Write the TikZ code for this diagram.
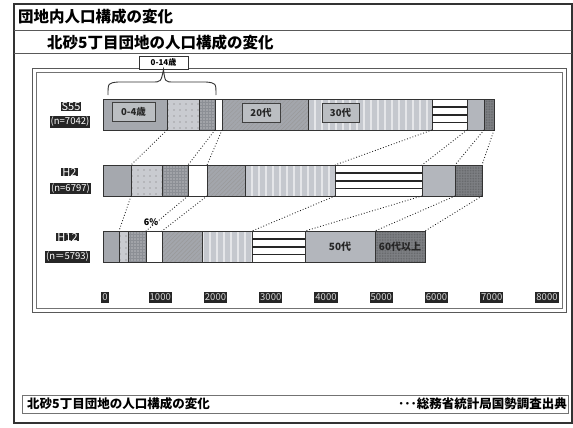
\documentclass[tikz,border=0pt]{standalone}
\usepackage{fontspec}
\setmainfont{Noto Sans CJK JP}
\usetikzlibrary{patterns.meta,calc}
\definecolor{g0}{HTML}{A5A8AE}
\definecolor{g5}{HTML}{C9CBD0}
\definecolor{g10}{HTML}{8C8F95}
\definecolor{g20}{HTML}{A3A6AC}
\definecolor{g30}{HTML}{C5C8CE}
\definecolor{g50}{HTML}{B3B6BC}
\definecolor{g60}{HTML}{7E8084}
\newcommand\mkseg[5]{\node[seg,#5,minimum width={#3-#2}] (#1) at (#2,#4) {};}
\begin{document}
\begin{tikzpicture}[x=1pt,y=-1pt,
  seg/.style={draw=black!80, line width=0.8pt, anchor=north west, inner sep=0pt, outer sep=0pt, minimum height=31pt},
  s0/.style={fill=g0},
  s5/.style={preaction={fill=g5}, pattern={Dots[distance=6pt,radius=0.55pt]}, pattern color=black!55},
  s10/.style={preaction={fill=g10}, pattern={Dots[distance=3pt,radius=0.65pt]}, pattern color=white!80!g10},
  s15/.style={fill=white},
  s20/.style={preaction={fill=g20}, pattern={Lines[angle=45,distance=3pt,line width=0.4pt]}, pattern color=black!40},
  s30/.style={preaction={fill=g30}, pattern={Lines[angle=90,distance=7pt,line width=1.5pt]}, pattern color=white!55!g30},
  s40/.style={fill=white},
  s50/.style={fill=g50},
  s60/.style={preaction={fill=g60}, pattern={Dots[distance=1.6pt,radius=0.4pt]}, pattern color=black!30!g60},
  conn/.style={dotted, line width=0.85pt, black!90},
  stripe/.style={line width=1.4pt, black!85},
  lbl/.style={draw=black!75, fill=g0!75!white, line width=0.8pt, font=\fontsize{9.5}{10}\selectfont\bfseries, text=black!85, inner sep=0pt, minimum height=19pt},
  rl/.style={fill=black!85, text=white, font=\fontsize{9.5}{10}\selectfont, inner sep=1pt},
  rlb/.style={rl, font=\fontsize{11}{12}\selectfont, inner ysep=0.3pt},
  ax/.style={fill=black!85, text=white!85!black, font=\fontsize{9.5}{10}\selectfont, inner xsep=1pt, inner ysep=0.5pt, minimum height=11pt},
  frameline/.style={line width=1pt, black!65}]
\useasboundingbox (0,0) rectangle (573,428);
\fill[white] (0,0) rectangle (573,428);
% frames
\draw[line width=1.6pt, black!80] (14,4) rectangle (572,423);
\draw[frameline] (14,31) -- (572,31);
\draw[frameline] (14,54) -- (572,54);
\draw[black!65, line width=0.8pt] (32,68) rectangle (566,312);
\draw[black!55, line width=0.6pt] (36,72) rectangle (562,308);
\draw[black!55, line width=0.7pt] (22,395) rectangle (568,413);
% titles
\node[anchor=west, font=\fontsize{15.5}{17}\selectfont\bfseries, inner sep=0pt] (title) at (18,17) {団地内人口構成の変化};
\node[anchor=west, font=\fontsize{15.5}{17}\selectfont\bfseries, inner sep=0pt] (subtitle) at (47,43) {北砂5丁目団地の人口構成の変化};
\node[anchor=west, font=\fontsize{12.5}{14}\selectfont\bfseries, inner sep=0pt] (cap) at (27,404) {北砂5丁目団地の人口構成の変化};
\node[anchor=east, font=\fontsize{12.5}{14}\selectfont\bfseries, inner sep=0pt] (src) at (567,404) {･･･総務省統計局国勢調査出典};
% S55 bar
\mkseg{a1}{103}{167}{99}{s0}
\mkseg{a2}{167}{199}{99}{s5}
\mkseg{a3}{199}{215}{99}{s10}
\mkseg{a4}{215}{222}{99}{s15}
\mkseg{a5}{222}{308}{99}{s20}
\mkseg{a6}{308}{432}{99}{s30}
\mkseg{a7}{432}{467}{99}{s40}
\mkseg{a8}{467}{484}{99}{s50}
\mkseg{a9}{484}{494}{99}{s60}
% H2 bar
\mkseg{b1}{103}{131}{165}{s0}
\mkseg{b2}{131}{162}{165}{s5}
\mkseg{b3}{162}{188}{165}{s10}
\mkseg{b4}{188}{207}{165}{s15}
\mkseg{b5}{207}{245}{165}{s20}
\mkseg{b6}{245}{335}{165}{s30}
\mkseg{b7}{335}{422}{165}{s40}
\mkseg{b8}{422}{455}{165}{s50}
\mkseg{b9}{455}{482}{165}{s60}
% H12 bar
\mkseg{c1}{103}{119}{231}{s0}
\mkseg{c2}{119}{128}{231}{s5}
\mkseg{c3}{128}{146}{231}{s10}
\mkseg{c4}{146}{162}{231}{s15}
\mkseg{c5}{162}{202}{231}{s20}
\mkseg{c6}{202}{252}{231}{s30}
\mkseg{c7}{252}{305}{231}{s40}
\mkseg{c8}{305}{375}{231}{s50}
\mkseg{c9}{375}{425}{231}{s60}
% horizontal stripes of the 40s
\foreach \n in {a7,b7,c7}{
  \foreach \f in {0.26,0.51,0.76}{
    \draw[stripe] ($(\n.north west)!\f!(\n.south west)$) -- ($(\n.north east)!\f!(\n.south east)$);
  }
}
% labels in bars
\node[lbl, minimum width=43pt] (l04) at (133.5,112) {0-4歳};
\node[lbl, minimum width=38pt] (l20) at (261,112.5) {20代};
\node[lbl, minimum width=37pt] (l30) at (340.5,112.5) {30代};
\node[font=\fontsize{10}{11}\selectfont\bfseries, text=black!85, inner sep=0pt] (l50) at (340,247) {50代};
\node[font=\fontsize{10}{11}\selectfont\bfseries, text=black!85, inner sep=0pt] (l60) at (400,247) {60代以上};
\node[font=\fontsize{9}{10}\selectfont\bfseries, inner sep=0pt] (p6) at (151,222) {6\%};
% row labels
\node[rlb] (r1) at (71,106.5) {S55};
\node[rl] (r1n) at (70,122) {(n=7042)};
\node[rlb] (r2) at (69.5,172) {H2};
\node[rl] (r2n) at (70.5,188.5) {(n=6797)};
\node[rlb] (r3) at (67.5,237) {H12};
\node[rl] (r3n) at (67.5,257) {(n＝5793)};
% axis labels
\foreach \v [count=\i from 0] in {0,1000,2000,3000,4000,5000,6000,7000,8000}{
  \node[ax] (t\i) at ({105+\i*55.25},297) {\v};
}
% brace with label
\node[draw=black!80, fill=white, line width=0.8pt, font=\fontsize{8}{9}\selectfont\bfseries, inner sep=0pt, minimum width=49pt, minimum height=13pt] (lb) at (163.5,62.5) {0-14歳};
\draw[line width=0.9pt, black!80] (108,95) .. controls (108,83) .. (118,82) -- (152,82) .. controls (161,82) .. (lb.south) .. controls (165,82) .. (174,82) -- (206,82) .. controls (216,83) .. (216,95);
% connectors S55 -> H2
\foreach \p/\q in {a1/b1,a3/b3,a4/b4,a6/b6,a7/b7,a8/b8,a9/b9}{
  \draw[conn] (\p.south east) -- (\q.north east);
}
% connectors H2 -> H12
\foreach \p/\q in {b1/c1,b3/c3,b4/c4,b6/c6,b7/c7,b8/c8,b9/c9}{
  \draw[conn] (\p.south east) -- (\q.north east);
}
\end{tikzpicture}
\end{document}
